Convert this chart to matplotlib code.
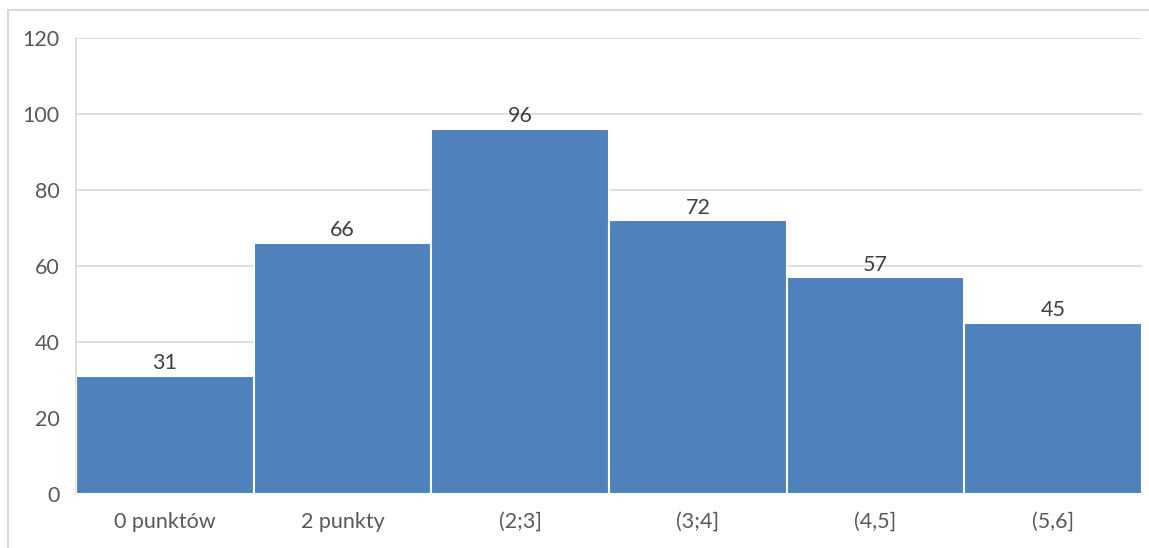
import matplotlib
matplotlib.use("Agg")
import matplotlib.pyplot as plt
from matplotlib.patches import Rectangle

categories = ["0 punktów", "2 punkty", "(2;3]", "(3;4]", "(4,5]", "(5,6]"]
counts = [31, 66, 96, 72, 57, 45]
yticks = [0, 20, 40, 60, 80, 100, 120]

plt.rcParams['font.family'] = ['Lato', 'DejaVu Sans']

W, H = 1149, 548
fig = plt.figure(figsize=(W / 100, H / 100), dpi=100)
ax = fig.add_axes([76 / W, 1 - 494 / H, (1142 - 76) / W, (494 - 38) / H])

# outer chart frame (partly cut off on right/bottom)
fig.patches.append(Rectangle((8 / W, -0.2), 1.2, (H - 10) / H + 0.2,
                             transform=fig.transFigure, fill=False,
                             edgecolor="#d9d9d9", linewidth=1.5))

x = range(len(categories))
bars = ax.bar(x, counts, width=1.0, color="#4f81bd", edgecolor="white",
              linewidth=1.5, zorder=3)
ax.bar_label(bars, labels=[str(c) for c in counts], padding=2,
             fontsize=15.5, color="#404040")

ax.set_xlim(-0.5, len(categories) - 0.5)
ax.set_ylim(0, 120)
ax.set_yticks(yticks)
ax.set_xticks(list(x))
ax.set_xticklabels(categories)
ax.tick_params(axis="both", length=0, labelsize=15.5, labelcolor="#595959")
ax.tick_params(axis="y", pad=12)
ax.tick_params(axis="x", pad=13)
ax.grid(axis="y", color="#d9d9d9", linewidth=1.2, zorder=0)

for s in ["top", "right", "bottom"]:
    ax.spines[s].set_visible(False)
ax.spines["left"].set_color("#d9d9d9")
ax.spines["left"].set_linewidth(1.2)

fig.savefig("out.png", dpi=100)
